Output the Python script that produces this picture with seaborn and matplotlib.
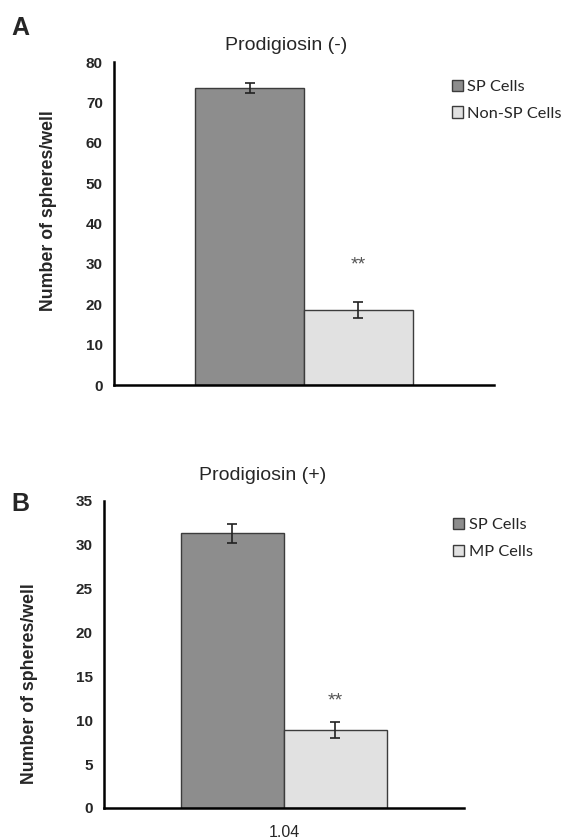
import numpy as np
import pandas as pd
import matplotlib.pyplot as plt
import seaborn as sns

## Data
groups_a = ['SP Cells', 'Non-SP Cells']
means_a = [73.5, 18.5]
errs_a = [1.2, 2.0]
category_a = ['']

groups_b = ['SP Cells', 'MP Cells']
means_b = [31.3, 8.9]
errs_b = [1.05, 0.9]
category_b = ['1.04']

sig_a = 29.8   # y position of ** label
sig_b = 12.25

sns.set_style('white')
plt.rcParams['font.family'] = ['Liberation Sans', 'DejaVu Sans']

dark = '#8d8d8d'
light = '#e1e1e1'
edge = '#3c3c3c'

fig = plt.figure(figsize=(5.64, 8.39), dpi=100)
axA = fig.add_axes([0.202, 0.541, 0.674, 0.385])
axB = fig.add_axes([0.184, 0.037, 0.639, 0.366])


def panel(ax, cat, groups, means, errs, ymax, ystep, sig_y, leg_xy):
    df = pd.DataFrame({'cat': cat * len(groups), 'group': groups, 'val': means})
    sns.barplot(data=df, x='cat', y='val', hue='group', palette=[dark, light],
                saturation=1, edgecolor=edge, linewidth=1.0, width=0.8,
                errorbar=None, ax=ax)
    bars = list(ax.containers)
    # error bars from the bar containers
    for cont, err in zip(bars, errs):
        for bar in cont:
            xc = bar.get_x() + bar.get_width() / 2
            ax.errorbar(xc, bar.get_height(), yerr=err, fmt='none',
                        ecolor='#222222', elinewidth=1.2, capsize=3.6, capthick=1.2)
    last = bars[-1][0]
    ax.text(last.get_x() + last.get_width() / 2, sig_y, '**', ha='center',
            va='center', fontsize=14, color='#555555')

    ax.set_ylim(0, ymax)
    ax.set_yticks(np.arange(0, ymax + 1, ystep))
    ax.set_xlim(-0.70, 0.70)
    ax.set_xticks([-0.70, 0.70], minor=True)
    ax.tick_params(axis='x', which='major', length=0, labelsize=11.5, pad=12)
    ax.tick_params(axis='x', which='minor', length=5, width=1.5, direction='out')
    ax.tick_params(axis='y', length=4, width=1.5, direction='out', labelsize=11, pad=4)
    for lab in ax.get_yticklabels():
        lab.set_fontweight('bold')
    sns.despine(ax=ax)
    for s in ['left', 'bottom']:
        ax.spines[s].set_linewidth(1.8)
        ax.spines[s].set_color('black')
    ax.set_xlabel('')
    ax.set_ylabel('Number of spheres/well', fontsize=12.8, fontweight='bold')

    ax.legend(loc='upper left', bbox_to_anchor=leg_xy, frameon=False,
              handlelength=0.7, handleheight=0.7, handletextpad=0.25,
              labelspacing=0.75, borderpad=0, borderaxespad=0,
              prop={'family': 'Lato', 'size': 11.8})


panel(axA, category_a, groups_a, means_a, errs_a, 80, 10, sig_a, (0.889, 0.946))
panel(axB, category_b, groups_b, means_b, errs_b, 35, 5, sig_b, (0.969, 0.945))
axA.yaxis.set_label_coords(-0.150, 0.539)
axB.yaxis.set_label_coords(-0.183, 0.404)
axA.set_title('Prodigiosin (-)', fontsize=14, pad=9, x=0.453)
axB.set_title('Prodigiosin (+)', fontsize=14, pad=15, x=0.44)

fig.text(0.037, 0.967, 'A', fontsize=18, fontweight='bold', va='center', ha='center')
fig.text(0.037, 0.399, 'B', fontsize=18, fontweight='bold', va='center', ha='center')

fig.savefig('out.png', dpi=100)
